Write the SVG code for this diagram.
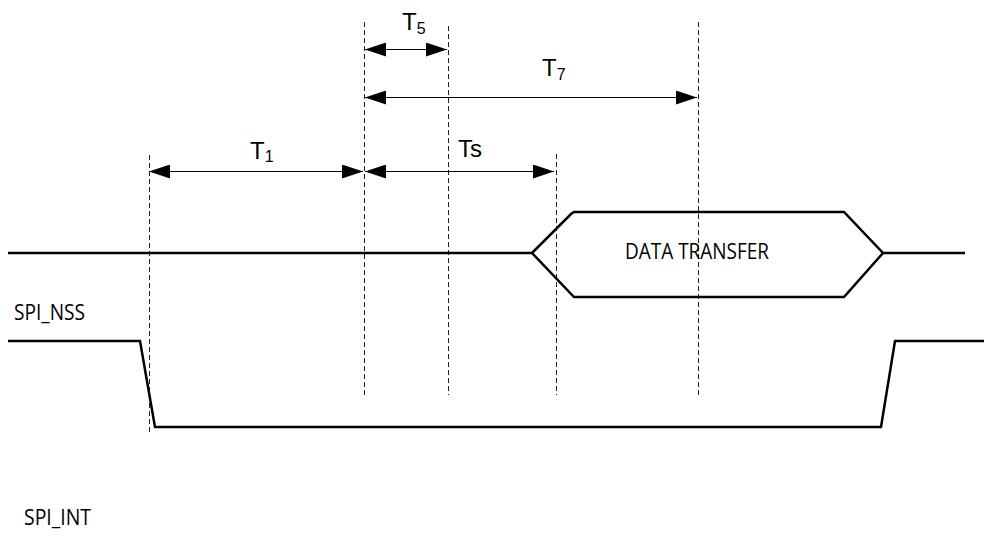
<svg xmlns="http://www.w3.org/2000/svg" width="984" height="539" viewBox="0 0 984 539">
<style>
.dash{stroke:#222;stroke-width:1;stroke-dasharray:5,3;fill:none}
.wave{stroke:#000;stroke-width:2.5;fill:none;stroke-linejoin:miter}
.dim{stroke:#000;stroke-width:1;fill:none;marker-start:url(#arr);marker-end:url(#arr)}
.lbl{font-family:"Liberation Sans",Arial,sans-serif;font-size:24px;fill:#000}
.sub{font-size:16px}
.sig{font-family:"Open Sans","Noto Sans",sans-serif;font-size:22px;fill:#000}
</style>
<defs>
<marker id="arr" viewBox="0 0 21 14" refX="21" refY="7" markerWidth="21" markerHeight="14" markerUnits="userSpaceOnUse" orient="auto-start-reverse">
<path d="M0,0 L21,7 L0,14 Z" fill="#000"/>
</marker>
</defs>
<rect width="984" height="539" fill="#fff"/>
<g id="guides">
<line class="dash" x1="149.5" y1="155" x2="149.5" y2="435"/>
<line class="dash" x1="364.5" y1="22" x2="364.5" y2="395"/>
<line class="dash" x1="448.5" y1="26" x2="448.5" y2="395"/>
<line class="dash" x1="556.5" y1="154" x2="556.5" y2="395"/>
<line class="dash" x1="698.5" y1="22" x2="698.5" y2="395"/>
</g>
<g id="connectors">
<line class="dim" x1="365" y1="49.5" x2="447" y2="49.5"/>
<line class="dim" x1="365" y1="97.5" x2="697" y2="97.5"/>
<line class="dim" x1="149" y1="171.5" x2="363" y2="171.5"/>
<line class="dim" x1="365" y1="171.5" x2="554" y2="171.5"/>
</g>
<g id="labels">
<text class="lbl" x="402" y="30">T<tspan class="sub" dy="4">5</tspan></text>
<text class="lbl" x="542" y="76">T<tspan class="sub" dy="4">7</tspan></text>
<text class="lbl" x="250" y="159">T<tspan class="sub" dy="3">1</tspan></text>
<text class="lbl" x="458" y="157">Ts</text>
</g>
<g id="data">
<path class="wave" d="M8,253 L532,253 M883,253 L965,253"/>
<path class="wave" d="M532,253 L571,214 L574,212 L844,212 L883,253 L844,297 L574,297 Z"/>
<text class="sig" x="625" y="259" textLength="144" lengthAdjust="spacingAndGlyphs">DATA TRANSFER</text>
</g>
<g id="spi_nss">
<text class="sig" x="14" y="320" textLength="71" lengthAdjust="spacingAndGlyphs">SPI_NSS</text>
<path class="wave" d="M8,341 L140,341 L155,427 L881,427 L895,341 L984,341"/>
</g>
<g id="spi_int">
<text class="sig" x="24" y="525" textLength="67" lengthAdjust="spacingAndGlyphs">SPI_INT</text>
</g>
</svg>
